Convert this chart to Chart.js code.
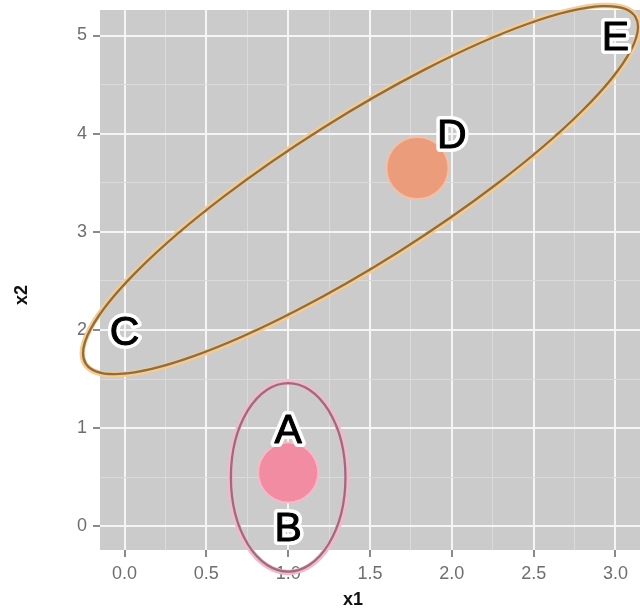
<!DOCTYPE html>
<html>
<head>
<meta charset="utf-8">
<script src="https://cdn.jsdelivr.net/npm/chart.js@4/dist/chart.umd.min.js"></script>
<style>
  html, body { margin: 0; padding: 0; background: #ffffff; }
  canvas { display: block; }
</style>
</head>
<body>
<canvas id="c" width="640" height="611"></canvas>
<script>
// Observations: letter, x1, x2
const pointLabels = ['A', 'B', 'C', 'D', 'E'];
const pointX1 = [1, 1, 0, 2, 3];
const pointX2 = [1, 0, 2, 4, 5];

// Cluster centroids
const centroidX1 = [1.0, 1.79];
const centroidX2 = [0.55, 3.65];

// Cluster ellipses: centre plus two semi-axis vectors, all in data units
const ellipseCenterX1 = [1.0, 1.442];
const ellipseCenterX2 = [0.50, 3.426];
const ellipseAxisU = [[0.35, 0], [1.679, 1.767]];
const ellipseAxisV = [[0, 0.96], [0.237, -0.625]];

// Axis ticks and limits
const xMajor = [0, 0.5, 1, 1.5, 2, 2.5, 3];
const xMinor = [0.25, 0.75, 1.25, 1.75, 2.25, 2.75];
const yMajor = [0, 1, 2, 3, 4, 5];
const yMinor = [0.5, 1.5, 2.5, 3.5, 4.5];
const xRange = [-0.15, 3.15];
const yRange = [-0.24, 5.26];

const centroidFill = ['#f18ca3', '#eb9c7b'];
const centroidEdge = ['rgba(250,185,200,0.9)', 'rgba(246,192,165,0.9)'];
const ellipseDark = ['#9d6b80', '#8f6d3f'];
const ellipseLight = ['#f4b9c9', '#f5cb90'];

const FONT = '"Liberation Sans", Arial, sans-serif';

function allTicks(major, minor) {
  return major.concat(minor).sort((a, b) => a - b).map(v => ({ value: v }));
}

// Fixed axis boxes, no extra room reserved for overhanging labels
function fixBox(s, w, h) {
  if (w !== null) s.width = w;
  if (h !== null) s.height = h;
  s.paddingLeft = 0; s.paddingRight = 0; s.paddingTop = 0; s.paddingBottom = 0;
}

const panelBackground = {
  id: 'panelBackground',
  beforeDraw(chart) {
    const { ctx, chartArea: a } = chart;
    ctx.save();
    ctx.fillStyle = '#cbcbcb';
    ctx.fillRect(a.left, a.top, a.right - a.left, a.bottom - a.top);
    ctx.restore();
  }
};

function ellipseGeometry(xs, ys, i) {
  const cx = xs.getPixelForValue(ellipseCenterX1[i]);
  const cy = ys.getPixelForValue(ellipseCenterX2[i]);
  const u = ellipseAxisU[i], v = ellipseAxisV[i];
  const ux = xs.getPixelForValue(ellipseCenterX1[i] + u[0]) - cx;
  const uy = ys.getPixelForValue(ellipseCenterX2[i] + u[1]) - cy;
  const vx = xs.getPixelForValue(ellipseCenterX1[i] + v[0]) - cx;
  const vy = ys.getPixelForValue(ellipseCenterX2[i] + v[1]) - cy;
  return { cx, cy, rx: Math.hypot(ux, uy), ry: Math.hypot(vx, vy), rot: Math.atan2(uy, ux) };
}

const clusterEllipses = {
  id: 'clusterEllipses',
  afterDatasetsDraw(chart) {
    const { ctx } = chart;
    const xs = chart.scales.x, ys = chart.scales.y;
    ctx.save();
    for (let i = 0; i < ellipseCenterX1.length; i++) {
      const g = ellipseGeometry(xs, ys, i);
      ctx.beginPath();
      ctx.ellipse(g.cx, g.cy, g.rx + 0.8, g.ry + 0.8, g.rot, 0, Math.PI * 2);
      ctx.strokeStyle = ellipseLight[i];
      ctx.lineWidth = 5.5;
      ctx.stroke();
      ctx.beginPath();
      ctx.ellipse(g.cx, g.cy, g.rx, g.ry, g.rot, 0, Math.PI * 2);
      ctx.strokeStyle = ellipseDark[i];
      ctx.lineWidth = 2.3;
      ctx.stroke();
    }
    ctx.restore();
  }
};

const letterLabels = {
  id: 'letterLabels',
  afterDraw(chart) {
    const { ctx } = chart;
    const meta = chart.getDatasetMeta(1);
    ctx.save();
    ctx.font = '41px ' + FONT;
    ctx.textAlign = 'center';
    ctx.textBaseline = 'alphabetic';
    ctx.lineJoin = 'round';
    meta.data.forEach((el, i) => {
      const y = el.y + 14.5;
      ctx.strokeStyle = '#ffffff';
      ctx.lineWidth = 8;
      ctx.strokeText(pointLabels[i], el.x, y);
      ctx.fillStyle = '#000000';
      ctx.strokeStyle = '#000000';
      ctx.lineWidth = 1;
      ctx.strokeText(pointLabels[i], el.x, y);
      ctx.fillText(pointLabels[i], el.x, y);
    });
    ctx.restore();
  }
};

const axisTitles = {
  id: 'axisTitles',
  afterDraw(chart) {
    const { ctx } = chart;
    ctx.save();
    ctx.font = 'bold 18px ' + FONT;
    ctx.fillStyle = '#111111';
    ctx.textAlign = 'center';
    ctx.textBaseline = 'middle';
    ctx.fillText('x1', 353, 600);
    ctx.translate(22, 295);
    ctx.rotate(-Math.PI / 2);
    ctx.fillText('x2', 0, 0);
    ctx.restore();
  }
};

new Chart(document.getElementById('c'), {
  type: 'scatter',
  data: {
    datasets: [
      {
        data: centroidX1.map((x, i) => ({ x, y: centroidX2[i] })),
        pointRadius: [30, 31],
        backgroundColor: centroidFill,
        borderColor: centroidEdge,
        borderWidth: 2
      },
      {
        data: pointX1.map((x, i) => ({ x, y: pointX2[i] })),
        pointRadius: 0
      }
    ]
  },
  options: {
    responsive: false,
    devicePixelRatio: 1,
    animation: false,
    events: [],
    layout: { autoPadding: false, padding: { top: 10, right: 0, left: 0, bottom: 0 } },
    plugins: { legend: { display: false }, tooltip: { enabled: false } },
    scales: {
      x: {
        type: 'linear',
        min: xRange[0],
        max: xRange[1],
        afterBuildTicks: s => { s.ticks = allTicks(xMajor, xMinor); },
        afterFit: s => fixBox(s, null, 61),
        border: { display: false },
        grid: {
          color: c => xMajor.includes(c.tick.value) ? '#f5f5f5' : '#dadada',
          lineWidth: c => xMajor.includes(c.tick.value) ? 2 : 1,
          tickColor: c => xMajor.includes(c.tick.value) ? '#8a8a8a' : 'rgba(0,0,0,0)',
          tickWidth: 2,
          tickLength: 7
        },
        ticks: {
          autoSkip: false,
          maxRotation: 0,
          padding: 6,
          color: '#6e6e6e',
          font: { family: FONT, size: 18 },
          callback: v => xMajor.includes(v) ? v.toFixed(1) : ''
        }
      },
      y: {
        type: 'linear',
        min: yRange[0],
        max: yRange[1],
        afterBuildTicks: s => { s.ticks = allTicks(yMajor, yMinor); },
        afterFit: s => fixBox(s, 100, null),
        border: { display: false },
        grid: {
          color: c => yMajor.includes(c.tick.value) ? '#f5f5f5' : '#dadada',
          lineWidth: c => yMajor.includes(c.tick.value) ? 2 : 1,
          tickColor: c => yMajor.includes(c.tick.value) ? '#8a8a8a' : 'rgba(0,0,0,0)',
          tickWidth: 2,
          tickLength: 7
        },
        ticks: {
          autoSkip: false,
          padding: 6,
          color: '#6e6e6e',
          font: { family: FONT, size: 18 },
          callback: v => yMajor.includes(v) ? String(v) : ''
        }
      }
    }
  },
  plugins: [panelBackground, clusterEllipses, letterLabels, axisTitles]
});
</script>
</body>
</html>
